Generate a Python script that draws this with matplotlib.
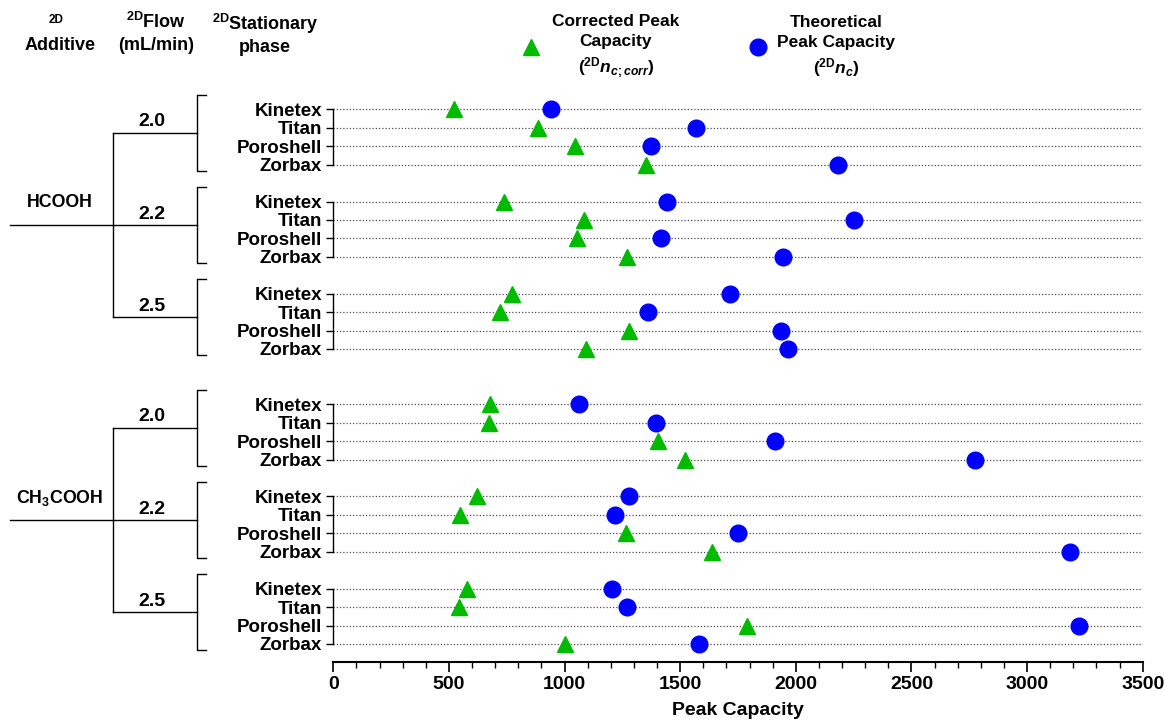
import numpy as np
import matplotlib.pyplot as plt
import matplotlib.transforms as mtransforms
from matplotlib.lines import Line2D
from matplotlib.ticker import MultipleLocator

plt.rcParams['font.family'] = ['Liberation Sans', 'DejaVu Sans']
plt.rcParams['font.weight'] = 'bold'
plt.rcParams['mathtext.fontset'] = 'custom'
plt.rcParams['mathtext.rm'] = 'Liberation Sans:bold'
plt.rcParams['mathtext.it'] = 'Liberation Sans:bold:italic'
plt.rcParams['mathtext.bf'] = 'Liberation Sans:bold'

# data
phases = ['Kinetex', 'Titan', 'Poroshell', 'Zorbax']
flows = ['2.0', '2.2', '2.5']
additives = ['HCOOH', 'CH$_{\\rm 3}$COOH']

# order: flow 2.0 (K,T,P,Z), 2.2 (K,T,P,Z), 2.5 (K,T,P,Z)
corr_hcooh = [521, 886, 1044, 1352, 736, 1083, 1053, 1270, 772, 721, 1280, 1092]
corr_ch3cooh = [677, 672, 1404, 1522, 620, 548, 1266, 1639, 578, 544, 1789, 1000]
theo_hcooh = [943, 1567, 1375, 2181, 1445, 2253, 1418, 1945, 1714, 1360, 1936, 1968]
theo_ch3cooh = [1062, 1396, 1911, 2776, 1278, 1216, 1752, 3186, 1206, 1268, 3225, 1581]

corrected = corr_hcooh + corr_ch3cooh
theoretical = theo_hcooh + theo_ch3cooh

# row slots: gap of one row between flow groups, two between additives
slots = []
labels = []
for a in range(len(additives)):
    for f in range(len(flows)):
        for p in range(len(phases)):
            slots.append(a * 16 + f * 5 + p)
            labels.append(phases[p])
slots = np.array(slots)

fig = plt.figure(figsize=(11.64, 7.2), dpi=100)
W, H = 1164., 720.
ax = fig.add_axes([333.3 / W, 1 - 662.4 / H, (1142.7 - 333.3) / W, (662.4 - 90.9) / H])

ax.hlines(slots, 0, 3500, colors='0.3', linestyles=(0, (1, 1.6)), lw=0.9, zorder=1)
ax.plot(corrected, slots, '^', color='#00BB00', ms=12, ls='none', zorder=3)
ax.plot(theoretical, slots, 'o', color='#0000FF', ms=12, ls='none', zorder=3)

ax.set_xlim(0, 3500)
ax.set_ylim(30, -1)
ax.xaxis.set_major_locator(MultipleLocator(500))
ax.xaxis.set_minor_locator(MultipleLocator(100))
ax.tick_params(axis='x', which='major', length=7, width=1.2, labelsize=14, pad=3)
ax.tick_params(axis='x', which='minor', length=4, width=1)
ax.set_yticks(slots)
ax.set_yticklabels(labels)
ax.tick_params(axis='y', length=5, width=1, labelsize=13.5, pad=3)
for s in ['top', 'right', 'left']:
    ax.spines[s].set_visible(False)
ax.spines['bottom'].set_linewidth(1.5)
ax.set_xlabel('Peak Capacity', fontsize=14, fontweight='bold', labelpad=6)

# left spine segments, one per group
for g in range(6):
    ax.plot([0, 0], [slots[g * 4], slots[g * 4 + 3]], color='black', lw=1, clip_on=False)

# tree of brackets on the left
tr = mtransforms.blended_transform_factory(fig.transFigure, ax.transData)
xb, xs, xt, xl = 197 / W, 206 / W, 113 / W, 10 / W
for a in range(len(additives)):
    mids = []
    for f in range(len(flows)):
        y0 = slots[(a * 3 + f) * 4] - 0.77
        y1 = slots[(a * 3 + f) * 4 + 3] + 0.33
        ym = (y0 + y1) / 2
        mids.append(ym)
        ax.plot([xs, xb, xb, xs], [y0, y0, y1, y1], color='black', lw=1,
                transform=tr, clip_on=False)
        ax.plot([xt, xb], [ym, ym], color='black', lw=1, transform=tr, clip_on=False)
        ax.text(152 / W, ym - 0.6, flows[f], transform=tr, ha='center', va='center',
                fontsize=14, fontweight='bold')
    ax.plot([xt, xt], [mids[0], mids[2]], color='black', lw=1, transform=tr, clip_on=False)
    ax.plot([xl, xt], [mids[1], mids[1]], color='black', lw=1, transform=tr, clip_on=False)
    ax.text(60 / W, mids[1] - 1.2, additives[a], transform=tr, ha='center', va='center',
            fontsize=12.8, fontweight='bold')

# column headers
fig.text(56 / W, 1 - 20 / H, '2D', ha='center', va='center', fontsize=8.5, fontweight='bold')
fig.text(60 / W, 1 - 46 / H, 'Additive', ha='center', va='center', fontsize=13, fontweight='bold')
fig.text(156 / W, 1 - 22 / H, '$^{\\rm 2D}$Flow', ha='center', va='center', fontsize=13, fontweight='bold')
fig.text(156 / W, 1 - 46 / H, '(mL/min)', ha='center', va='center', fontsize=13, fontweight='bold')
fig.text(265 / W, 1 - 24 / H, '$^{\\rm 2D}$Stationary', ha='center', va='center', fontsize=13, fontweight='bold')
fig.text(265 / W, 1 - 48 / H, 'phase', ha='center', va='center', fontsize=13, fontweight='bold')

# legend
fig.add_artist(Line2D([530.7 / W], [1 - 47 / H], marker='^', color='#00BB00', ms=12,
                      ls='none', transform=fig.transFigure))
fig.add_artist(Line2D([757.7 / W], [1 - 47 / H], marker='o', color='#0000FF', ms=12,
                      ls='none', transform=fig.transFigure))
fig.text(616 / W, 1 - 47 / H, 'Corrected Peak\nCapacity\n($^{\\rm 2D}$$n_{c;corr}$)',
         ha='center', va='center', multialignment='center', fontsize=12.5,
         fontweight='bold', linespacing=1.38)
fig.text(836 / W, 1 - 47 / H, 'Theoretical\nPeak Capacity\n($^{\\rm 2D}$$n_c$)',
         ha='center', va='center', multialignment='center', fontsize=12.5,
         fontweight='bold', linespacing=1.38)

fig.savefig('out.png', dpi=100)
